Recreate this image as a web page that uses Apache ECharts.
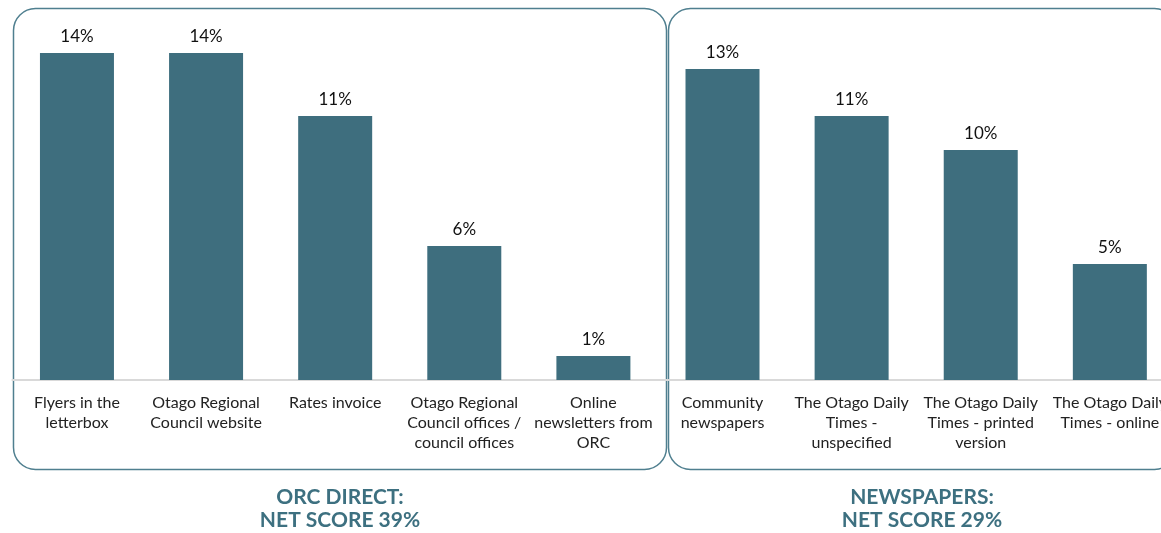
<!DOCTYPE html>
<html><head><meta charset="utf-8">
<script src="https://cdn.jsdelivr.net/npm/echarts@6/dist/echarts.min.js"></script>
<style>html,body{margin:0;padding:0;background:#fff;overflow:hidden;width:1161px;height:533px}#c{width:1180px;height:533px}</style>
</head><body><div id="c"></div>
<script>
const categories = [
  "Flyers in the\nletterbox",
  "Otago Regional\nCouncil website",
  "Rates invoice",
  "Otago Regional\nCouncil offices /\ncouncil offices",
  "Online\nnewsletters from\nORC",
  "Community\nnewspapers",
  "The Otago Daily\nTimes -\nunspecified",
  "The Otago Daily\nTimes - printed\nversion",
  "The Otago Daily\nTimes - online"
];
const values = [13.97, 13.97, 11.28, 5.73, 1.03, 13.29, 11.28, 9.83, 4.96];
const groupTitles = ["ORC DIRECT:\nNET SCORE 39%", "NEWSPAPERS:\nNET SCORE 29%"];

const chart = echarts.init(document.getElementById('c'), null, {renderer:'canvas'});
const font = 'Lato, "Noto Sans", sans-serif';
const teal = '#3e6e7e';
const boxStroke = '#4f7f8f';
chart.setOption({
  animation:false,
  grid:{left:12.4, right:5.6, top:5.6, bottom:153, containLabel:false},
  xAxis:{type:'category', data:categories,
    axisLine:{show:true, lineStyle:{color:'#d9d9d9', width:2}},
    axisTick:{show:false},
    axisLabel:{interval:0, color:'#222', fontFamily:font, fontSize:16, lineHeight:20, margin:13}},
  yAxis:{type:'value', min:0, max:16, show:false, splitLine:{show:false}},
  series:[{type:'bar', data:values, barWidth:74, itemStyle:{color:teal},
    label:{show:true, position:'top', distance:8, color:'#111', fontFamily:font, fontSize:17,
      formatter:p=>Math.round(p.value)+'%'}}],
  graphic:[
    {type:'rect', shape:{x:13.5, y:8.5, width:653, height:461, r:22}, style:{fill:null, stroke:boxStroke, lineWidth:1.5}, z:-1},
    {type:'rect', shape:{x:668.5, y:8.5, width:508, height:461, r:22}, style:{fill:null, stroke:boxStroke, lineWidth:1.5}, z:-1},
    {type:'text', x:340, y:486, style:{text:groupTitles[0], fill:'#3d7080', font:'bold 21px '+font, align:'center', verticalAlign:'top', lineHeight:23}},
    {type:'text', x:922, y:486, style:{text:groupTitles[1], fill:'#3d7080', font:'bold 21px '+font, align:'center', verticalAlign:'top', lineHeight:23}}
  ]
});
</script></body></html>
